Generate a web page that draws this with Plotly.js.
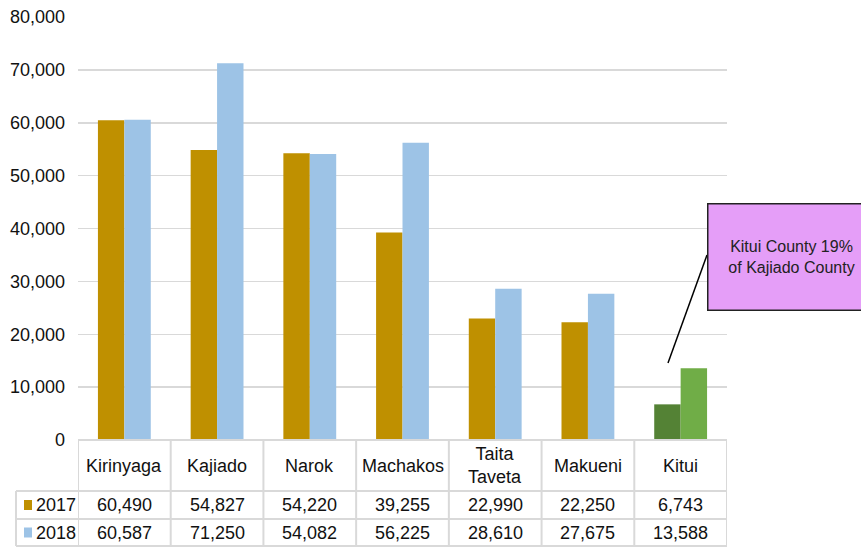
<!DOCTYPE html>
<html>
<head>
<meta charset="utf-8">
<script src="https://cdn.plot.ly/plotly-3.0.1.min.js"></script>
<style>html,body{margin:0;padding:0;background:#fff;}#chart{width:861px;height:548px;}</style>
</head>
<body>
<div id="chart"></div>
<script>
const categories = ["Kirinyaga", "Kajiado", "Narok", "Machakos", "Taita<br>Taveta", "Makueni", "Kitui"];
const seriesNames = ["2017", "2018"];
const values2017 = [60490, 54827, 54220, 39255, 22990, 22250, 6743];
const values2018 = [60587, 71250, 54082, 56225, 28610, 27675, 13588];
const colors2017 = ["#BF9000", "#BF9000", "#BF9000", "#BF9000", "#BF9000", "#BF9000", "#548235"];
const colors2018 = ["#9DC3E6", "#9DC3E6", "#9DC3E6", "#9DC3E6", "#9DC3E6", "#9DC3E6", "#70AD47"];
const legendColors = ["#BF9000", "#9DC3E6"];
const calloutText = "Kitui County 19%<br>of Kajiado County";

const FONT = "Liberation Sans, Arial, Helvetica, sans-serif";
const W = 861, H = 548;
const M = {l: 78, r: 134, t: 17, b: 108};
const plotW = W - M.l - M.r, plotH = H - M.t - M.b;
const px2paperX = p => (p - M.l) / plotW;
const px2paperY = p => (H - M.b - p) / plotH;

const xs = categories.map((c, i) => i);
const fmt = v => v.toLocaleString("en-US");

const traces = [
  {type: "bar", x: xs, y: values2017, name: seriesNames[0], marker: {color: colors2017}, hoverinfo: "y"},
  {type: "bar", x: xs, y: values2018, name: seriesNames[1], marker: {color: colors2018}, hoverinfo: "y"}
];

const gridC = "#D9D9D9";
const shapes = [];
const annotations = [];
const rowHeaderTop = 440, row1Top = 491, row2Top = 519, rowBottom = 546, tableLeft = 16;
const n = categories.length;
shapes.push({type: "line", xref: "paper", yref: "paper", x0: 0, x1: 1, y0: px2paperY(rowHeaderTop), y1: px2paperY(rowHeaderTop), line: {color: gridC, width: 2}});
[row1Top, row2Top, rowBottom].forEach(p => shapes.push({type: "line", xref: "paper", yref: "paper", x0: px2paperX(tableLeft), x1: 1, y0: px2paperY(p), y1: px2paperY(p), line: {color: gridC, width: 2}}));
for (let i = 0; i <= n; i++) {
  shapes.push({type: "line", xref: "x", yref: "paper", x0: i - 0.5, x1: i - 0.5, y0: px2paperY(rowHeaderTop), y1: px2paperY(rowBottom), line: {color: gridC, width: 2}});
}
shapes.push({type: "line", xref: "paper", yref: "paper", x0: px2paperX(tableLeft), x1: px2paperX(tableLeft), y0: px2paperY(row1Top), y1: px2paperY(rowBottom), line: {color: gridC, width: 2}});

const tFont = {family: FONT, size: 18, color: "#111"};
categories.forEach((c, i) => {
  annotations.push({xref: "x", yref: "paper", x: i, y: px2paperY((rowHeaderTop + row1Top) / 2), text: c, showarrow: false, font: tFont, xanchor: "center", yanchor: "middle"});
  annotations.push({xref: "x", yref: "paper", x: i, y: px2paperY((row1Top + row2Top) / 2), text: fmt(values2017[i]), showarrow: false, font: tFont, xanchor: "center", yanchor: "middle"});
  annotations.push({xref: "x", yref: "paper", x: i, y: px2paperY((row2Top + rowBottom) / 2), text: fmt(values2018[i]), showarrow: false, font: tFont, xanchor: "center", yanchor: "middle"});
});
[[row1Top, row2Top], [row2Top, rowBottom]].forEach((r, k) => {
  const mid = (r[0] + r[1]) / 2;
  shapes.push({type: "rect", xref: "paper", yref: "paper", x0: px2paperX(24), x1: px2paperX(32), y0: px2paperY(mid - 5), y1: px2paperY(mid + 5), fillcolor: legendColors[k], line: {width: 0}});
  annotations.push({xref: "paper", yref: "paper", x: px2paperX(34), y: px2paperY(mid), text: seriesNames[k], showarrow: false, font: tFont, xanchor: "left", yanchor: "middle"});
});

shapes.push({type: "line", xref: "paper", yref: "paper", x0: px2paperX(668), y0: px2paperY(363), x1: px2paperX(707), y1: px2paperY(255), line: {color: "#000", width: 1.5}});
annotations.push({xref: "paper", yref: "paper", x: px2paperX(707), y: px2paperY(203), xanchor: "left", yanchor: "top",
  text: calloutText, showarrow: false, width: 166, height: 105, bgcolor: "#E59EF8", bordercolor: "#222", borderwidth: 1.5, borderpad: 0,
  align: "center", valign: "middle", font: {family: FONT, size: 16, color: "#222"}});

const layout = {
  width: W, height: H,
  margin: M,
  paper_bgcolor: "#fff", plot_bgcolor: "#fff",
  showlegend: false,
  barmode: "group", bargap: 0.43, bargroupgap: 0,
  font: {family: FONT, size: 18, color: "#111"},
  xaxis: {range: [-0.5, n - 0.5], showticklabels: false, showgrid: false, zeroline: false, showline: false, ticks: "", fixedrange: true},
  yaxis: {range: [0, 80000], dtick: 10000, tickformat: ",d", showgrid: true, gridcolor: gridC, gridwidth: 1.5, zeroline: false, showline: false, ticks: "", ticklabelstandoff: 12, tickfont: {family: FONT, size: 18, color: "#111"}, fixedrange: true},
  shapes: shapes,
  annotations: annotations
};

Plotly.newPlot("chart", traces, layout, {displayModeBar: false, staticPlot: true});
</script>
</body>
</html>
